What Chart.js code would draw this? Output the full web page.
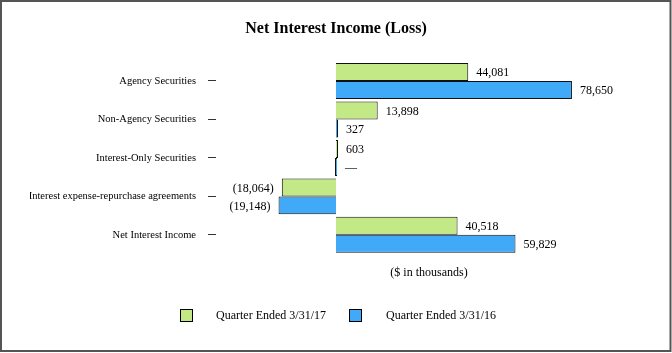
<!DOCTYPE html>
<html>
<head>
<meta charset="utf-8">
<script src="https://cdn.jsdelivr.net/npm/chart.js@4.4.1/dist/chart.umd.min.js"></script>
<style>
  html, body { margin: 0; padding: 0; background: #fff; }
  #wrap { width: 672px; height: 353px; position: relative; }
  canvas { display: block; }
</style>
</head>
<body>
<div id="wrap"><canvas id="c" width="672" height="353"></canvas></div>
<script>
const categories = [
  'Agency Securities',
  'Non-Agency Securities',
  'Interest-Only Securities',
  'Interest expense-repurchase agreements',
  'Net Interest Income'
];
const seriesNames = ['Quarter Ended 3/31/17', 'Quarter Ended 3/31/16'];
const q2017 = [44081, 13898, 603, -18064, 40518];
const q2016 = [78650, 327, 0, -19148, 59829];
const chartTitle = 'Net Interest Income (Loss)';
const axisTitle = '($ in thousands)';

const FONT = "'Liberation Serif', 'Times New Roman', serif";
const GREEN = '#C3E986';
const BLUE = '#40AAF8';

function fmt(v) {
  if (v === 0) return '\u2014';
  const s = Math.abs(v).toLocaleString('en-US');
  return v < 0 ? '(' + s + ')' : s;
}

const decor = {
  id: 'decor',
  beforeDraw(chart) {
    const ctx = chart.ctx;
    ctx.save();
    ctx.fillStyle = '#fff';
    ctx.fillRect(0, 0, chart.width, chart.height);
    ctx.restore();
  },
  afterDatasetsDraw(chart) {
    const ctx = chart.ctx;
    ctx.save();
    ctx.font = '12px ' + FONT;
    ctx.fillStyle = '#000';
    ctx.textBaseline = 'middle';
    chart.data.datasets.forEach((ds, di) => {
      const meta = chart.getDatasetMeta(di);
      meta.data.forEach((bar, i) => {
        const v = ds.data[i];
        const t = fmt(v);
        if (v < 0) {
          ctx.textAlign = 'right';
          ctx.fillText(t, Math.min(bar.x, bar.base) - 8, bar.y + 1);
        } else {
          ctx.textAlign = 'left';
          ctx.fillText(t, Math.max(bar.x, bar.base) + 8, bar.y + 1);
        }
      });
    });
    ctx.restore();
  },
  afterDraw(chart) {
    const ctx = chart.ctx;
    ctx.save();
    const items = [
      { x: 180, tx: 216, color: chart.data.datasets[0].backgroundColor, label: chart.data.datasets[0].label },
      { x: 349, tx: 386, color: chart.data.datasets[1].backgroundColor, label: chart.data.datasets[1].label }
    ];
    ctx.font = '12px ' + FONT;
    ctx.textBaseline = 'middle';
    ctx.textAlign = 'left';
    items.forEach(it => {
      ctx.fillStyle = it.color;
      ctx.fillRect(it.x, 309, 13, 13);
      ctx.strokeStyle = '#000';
      ctx.lineWidth = 1;
      ctx.strokeRect(it.x + 0.5, 309.5, 12, 12);
      ctx.fillStyle = '#000';
      ctx.fillText(it.label, it.tx, 316);
    });
    ctx.strokeStyle = '#555';
    ctx.lineWidth = 2;
    ctx.strokeRect(1, 1, 669.5, 350);
    ctx.restore();
  }
};

new Chart(document.getElementById('c'), {
  type: 'bar',
  data: {
    labels: categories,
    datasets: [
      { label: seriesNames[0], data: q2017, backgroundColor: GREEN, borderColor: '#111', borderWidth: 1 },
      { label: seriesNames[1], data: q2016, backgroundColor: BLUE, borderColor: '#111', borderWidth: 1 }
    ]
  },
  options: {
    indexAxis: 'y',
    responsive: false,
    animation: false,
    devicePixelRatio: 1,
    barPercentage: 1,
    categoryPercentage: 0.935,
    minBarLength: 2,
    layout: { padding: { top: 0, right: 30, bottom: 69.3, left: 30 } },
    plugins: {
      legend: { display: false },
      tooltip: { enabled: false },
      title: {
        display: true,
        text: chartTitle,
        color: '#000',
        font: { family: FONT, size: 16, weight: 'bold' },
        padding: { top: 19, bottom: 23.5 }
      }
    },
    scales: {
      x: {
        min: -40000,
        max: 102000,
        grid: { display: false },
        border: { display: false },
        ticks: { display: false },
        title: {
          display: true,
          text: axisTitle,
          color: '#000',
          font: { family: FONT, size: 12 },
          padding: { top: 3.2, bottom: 4 }
        }
      },
      y: {
        grid: {
          display: true,
          drawOnChartArea: false,
          drawTicks: true,
          tickLength: 8,
          offset: false,
          color: '#333',
          tickColor: '#333'
        },
        border: { display: false },
        ticks: {
          color: '#000',
          padding: 12,
          font: { family: FONT, size: 10.5 }
        },
        afterFit(scale) { scale.width = 186; }
      }
    }
  },
  plugins: [decor]
});
</script>
</body>
</html>
